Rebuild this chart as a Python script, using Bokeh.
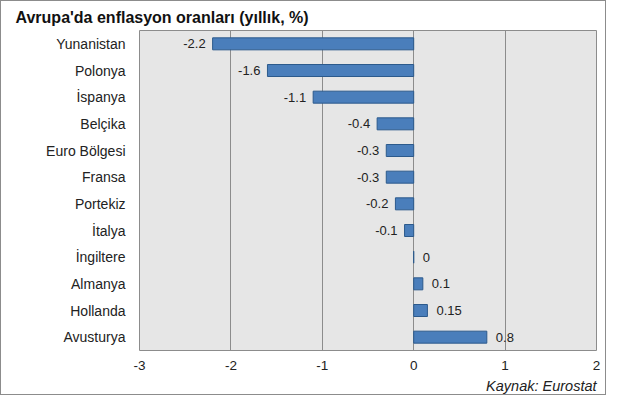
from bokeh.plotting import figure
from bokeh.models import ColumnDataSource, FixedTicker, Title
from bokeh.core.properties import value
from bokeh.embed import file_html
from bokeh.resources import INLINE

countries = ["Yunanistan", "Polonya", "İspanya", "Belçika", "Euro Bölgesi", "Fransa",
             "Portekiz", "İtalya", "İngiltere", "Almanya", "Hollanda", "Avusturya"]
rates = [-2.2, -1.6, -1.1, -0.4, -0.3, -0.3, -0.2, -0.1, 0, 0.1, 0.15, 0.8]
labels = ["-2.2", "-1.6", "-1.1", "-0.4", "-0.3", "-0.3", "-0.2", "-0.1", "0", "0.1", "0.15", "0.8"]
x_ticks = [-3, -2, -1, 0, 1, 2]

FONT = "Liberation Sans"

neg = [i for i, v in enumerate(rates) if v < 0]
pos = [i for i, v in enumerate(rates) if v >= 0]

src = ColumnDataSource(data=dict(country=countries, rate=rates, label=labels))
neg_src = ColumnDataSource(data=dict(country=[countries[i] for i in neg],
                                     rate=[rates[i] for i in neg],
                                     label=[labels[i] for i in neg]))
pos_src = ColumnDataSource(data=dict(country=[countries[i] for i in pos],
                                     rate=[rates[i] for i in pos],
                                     label=[labels[i] for i in pos]))

p = figure(width=606, height=395, y_range=list(reversed(countries)), x_range=(-3, 2),
           output_backend="svg", toolbar_location=None,
           min_border_left=138, min_border_right=11, min_border_top=25, min_border_bottom=0)
p.styles = {"border": "1px solid #8c8c8c"}

p.title.text = "Avrupa'da enflasyon oranları (yıllık, %)"
p.title.text_font = FONT
p.title.text_font_size = "16px"
p.title.text_font_style = "bold"
p.title.text_color = "#111111"
p.title.align = "left"
p.title.offset = -124

p.background_fill_color = "#e6e6e6"
p.border_fill_color = "white"
p.outline_line_color = "#8c8c8c"

p.hbar(y="country", right="rate", left=0, height=0.45, source=src,
       fill_color="#4a7ebb", line_color="#2c5a8c", line_width=1)

p.text(x="rate", y="country", text="label", source=neg_src, x_offset=-7,
       text_align="right", text_baseline="middle", text_font=value(FONT),
       text_font_size="13px", text_color="#222222")
p.text(x="rate", y="country", text="label", source=pos_src, x_offset=9,
       text_align="left", text_baseline="middle", text_font=value(FONT),
       text_font_size="13px", text_color="#222222")

p.xaxis.ticker = FixedTicker(ticks=x_ticks)
p.xaxis.major_label_overrides = {t: str(t) for t in x_ticks}
p.xgrid.ticker = FixedTicker(ticks=[-2, -1, 0, 1])
p.xgrid.grid_line_color = "#8c8c8c"
p.ygrid.grid_line_color = None

for ax in (p.xaxis, p.yaxis):
    ax.axis_line_color = None
    ax.major_tick_line_color = None
    ax.minor_tick_line_color = None
    ax.major_label_text_font = FONT
    ax.major_label_text_color = "#222222"
p.yaxis.major_label_text_font_size = "14px"
p.xaxis.major_label_text_font_size = "13.5px"
p.yaxis.major_label_standoff = 8
p.xaxis.major_label_standoff = 4

src_note = Title(text="Kaynak: Eurostat", align="right", text_font=FONT,
                 text_font_size="14.5px", text_font_style="italic",
                 text_color="#222222", offset=0, standoff=6)
p.add_layout(src_note, "below")

open("out.html", "w").write(file_html(p, INLINE))
